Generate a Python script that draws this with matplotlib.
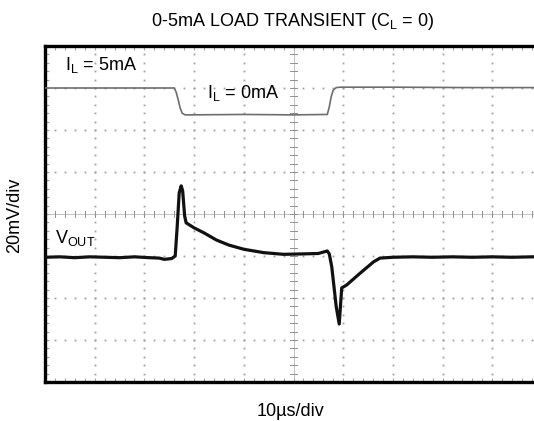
import numpy as np
import matplotlib
matplotlib.use("Agg")
import matplotlib.pyplot as plt

plt.rcParams['font.family'] = ['Liberation Sans', 'DejaVu Sans']

# scope screen: 10 horizontal divisions, 8 vertical divisions
# load current trace (divisions)
il_t = [0.0, 2.60, 2.64, 2.68, 2.72, 2.76, 2.82, 2.90, 4.0, 5.0, 5.68, 5.72, 5.76, 5.80, 5.86, 5.95, 7.0, 8.5, 10.0]
il_v = [7.00, 7.00, 6.90, 6.72, 6.52, 6.40, 6.36, 6.36, 6.37, 6.36, 6.37, 6.55, 6.80, 6.95, 7.01, 7.02, 7.02, 7.01, 7.01]

# output voltage trace (divisions)
vout_t = [0.0, 0.3, 0.6, 0.9, 1.2, 1.5, 1.8, 2.1, 2.30, 2.40, 2.55, 2.62, 2.66, 2.70, 2.74, 2.77,
          2.81, 2.84, 3.0, 3.2, 3.45, 3.7, 4.0, 4.4, 4.8, 5.2, 5.5, 5.68, 5.72, 5.77, 5.86, 5.92,
          5.97, 6.07, 6.34, 6.61, 6.74, 7.0, 7.4, 7.8, 8.2, 8.6, 9.0, 9.4, 9.8, 10.0]
vout_v = [2.97, 2.98, 2.96, 2.98, 2.97, 2.96, 2.98, 2.96, 2.95, 2.92, 2.94, 3.00, 3.70, 4.50, 4.67, 4.55,
          3.95, 3.79, 3.67, 3.55, 3.38, 3.26, 3.16, 3.08, 3.04, 3.05, 3.06, 3.12, 3.05, 2.74, 1.79, 1.38,
          2.24, 2.31, 2.59, 2.86, 2.95, 2.97, 2.98, 2.97, 2.98, 2.97, 2.98, 2.97, 2.98, 2.98]

fig = plt.figure(figsize=(5.34, 4.21), dpi=100)
W, H = 534, 421
left, right, top, bottom = 45, 542, 46, 382
ax = fig.add_axes([left / W, 1 - bottom / H, (right - left) / W, (bottom - top) / H])
ax.set_xlim(0, 10)
ax.set_ylim(0, 8)

# dotted graticule
sub = np.arange(0, 10.01, 0.2)
subv = np.arange(0, 8.01, 0.2)
for gx in range(1, 10):
    if gx == 5:
        continue
    ax.plot(np.full_like(subv, gx), subv, ls='none', marker='s', ms=1.3, mew=0, color='#a0a0a0', zorder=1)
for gy in range(1, 8):
    if gy == 4:
        continue
    ax.plot(sub, np.full_like(sub, gy), ls='none', marker='s', ms=1.3, mew=0, color='#a0a0a0', zorder=1)

# centre axes with minor ticks
ax.axhline(4, color='#b8b8b8', lw=0.6, zorder=1)
ax.axvline(5, color='#b8b8b8', lw=0.6, zorder=1)
for s in sub:
    ax.plot([s, s], [3.93, 4.07], color='#909090', lw=0.7, zorder=1)
for s in subv:
    ax.plot([4.92, 5.08], [s, s], color='#909090', lw=0.7, zorder=1)

# traces
ax.plot(il_t, il_v, color='#6e6e6e', lw=1.2, zorder=3)
ax.plot(vout_t, vout_v, color='#111111', lw=2.3, zorder=3, solid_joinstyle='round')

# frame
for side in ['left', 'top', 'bottom']:
    ax.spines[side].set_linewidth(2.4)
    ax.spines[side].set_color('black')
ax.spines['right'].set_visible(False)
ax.spines['right'].set_linewidth(0)
ax.set_xticks(np.arange(0, 10.01, 0.2))
ax.set_yticks(np.arange(0, 8.01, 0.2))
ax.tick_params(axis='both', which='both', direction='in', length=3, width=0.8, colors='#a0a0a0',
               labelbottom=False, labelleft=False, top=True, bottom=True, left=True, right=False)

# labels
ax.text(0.4, 7.55, r'I$_\mathregular{L}$ = 5mA', fontsize=13, va='center', ha='left')
ax.text(3.25, 6.88, r'I$_\mathregular{L}$ = 0mA', fontsize=13, va='center', ha='left')
ax.text(0.2, 3.42, r'V$_\mathregular{OUT}$', fontsize=13, va='center', ha='left')

fig.text(293 / W, 1 - 21 / H, r'0-5mA LOAD TRANSIENT (C$_\mathregular{L}$ = 0)', fontsize=13,
         ha='center', va='center')
fig.text(291 / W, 1 - 412 / H, '10µs/div', fontsize=13, ha='center', va='center')
fig.text(15 / W, 1 - 215 / H, '20mV/div', fontsize=13, ha='center', va='center', rotation=90)

fig.savefig('out.png', dpi=100)
